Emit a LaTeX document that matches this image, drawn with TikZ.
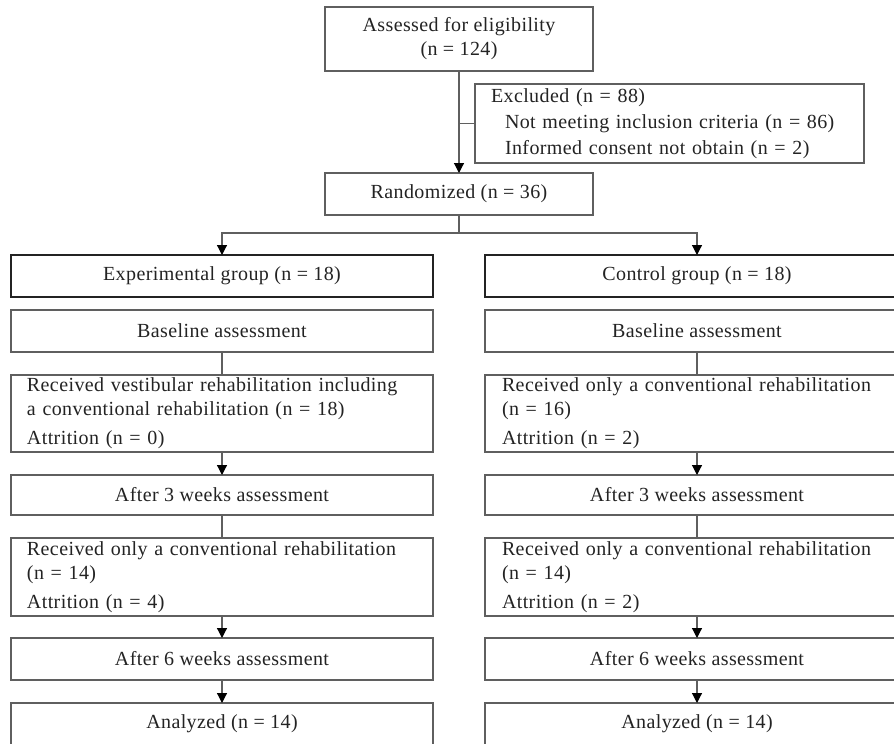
\documentclass[tikz,border=0pt]{standalone}
\usepackage{fontspec}
\setmainfont{Liberation Serif}[LetterSpace=2]
\usetikzlibrary{positioning,calc,arrows.meta}
\definecolor{mygray}{RGB}{95,95,95}
\definecolor{mydark}{RGB}{35,35,35}
\begin{document}
\begin{tikzpicture}[x=1pt,y=1pt,node distance=23pt,outer sep=0pt,
box/.style={
  draw=mygray,
  line width=1.2pt,
  inner sep=2pt,
  align=center,
  text=mydark,
  font={\fontsize{20}{24}\selectfont},
  minimum width=422pt,
  minimum height=42pt},
lbox/.style={box,inner xsep=16pt,text width=390pt,align=left},
grpbox/.style={box,draw=mydark,line width=2.4pt},
arr/.style={draw=mygray,line width=1.2pt,-{Triangle[width=10pt,length=10pt,color=black]}},
con/.style={draw=mygray,line width=1.2pt},
]
\useasboundingbox (0,0) rectangle (894,-744);
\node[box,minimum width=268pt,minimum height=64pt] (Ass) at (459,-39) {Assessed for eligibility\\(n = 124)};
\node[box,anchor=north west,minimum width=389pt,minimum height=79pt,inner xsep=16pt,text width=357pt,align=left,
  font={\fontsize{20}{26}\selectfont}] (Exc) at (475,-84)
  {Excluded (n = 88)\\\hspace*{14pt}Not meeting inclusion criteria (n = 86)\\\hspace*{14pt}Informed consent not obtain (n = 2)};
\node[box,minimum width=268pt] (Ran) at (459,-194) {Randomized (n = 36)};
\node[grpbox] (Exp) at (222,-276) {Experimental group (n = 18)};
\node[grpbox,minimum width=424pt] (Con) at (697,-276) {Control group (n = 18)};
\node[box,below=13pt of Exp] (BaE) {Baseline assessment};
\node[lbox,below=of BaE,minimum height=77pt] (RvE) {Received vestibular rehabilitation including\\a conventional rehabilitation (n = 18)\\[5pt]Attrition (n = 0)};
\node[box,below=of RvE,minimum height=40pt] (ThE) {After 3 weeks assessment};
\node[lbox,below=of ThE,minimum height=78pt] (RcE) {Received only a conventional rehabilitation\\(n = 14)\\[5pt]Attrition (n = 4)};
\node[box,below=22pt of RcE] (SiE) {After 6 weeks assessment};
\node[box,below=of SiE] (AnE) {Analyzed (n = 14)};
\node[box,below=13pt of Con,minimum width=424pt] (BaC) {Baseline assessment};
\node[lbox,below=of BaC,minimum width=424pt,minimum height=77pt] (RvC) {Received only a conventional rehabilitation\\(n = 16)\\[5pt]Attrition (n = 2)};
\node[box,below=of RvC,minimum width=424pt,minimum height=40pt] (ThC) {After 3 weeks assessment};
\node[lbox,below=of ThC,minimum width=424pt,minimum height=78pt] (RcC) {Received only a conventional rehabilitation\\(n = 14)\\[5pt]Attrition (n = 2)};
\node[box,below=22pt of RcC,minimum width=424pt] (SiC) {After 6 weeks assessment};
\node[box,below=of SiC,minimum width=424pt] (AnC) {Analyzed (n = 14)};
\coordinate (Spl) at ($(Ran.south)+(0,-18)$);
\draw[arr] (Ass) -- (Ran);
\draw[con] (Ass.south |- Exc.west) -- (Exc.west);
\draw[con] (Ran) -- (Spl);
\draw[arr] (Spl) -| (Exp.north);
\draw[arr] (Spl) -| (Con.north);
\foreach \g in {E,C}{
  \draw[con] (Ba\g) -- (Rv\g);
  \draw[arr] (Rv\g) -- (Th\g);
  \draw[con] (Th\g) -- (Rc\g);
  \draw[arr] (Rc\g) -- (Si\g);
  \draw[arr] (Si\g) -- (An\g);
}
\end{tikzpicture}
\end{document}
